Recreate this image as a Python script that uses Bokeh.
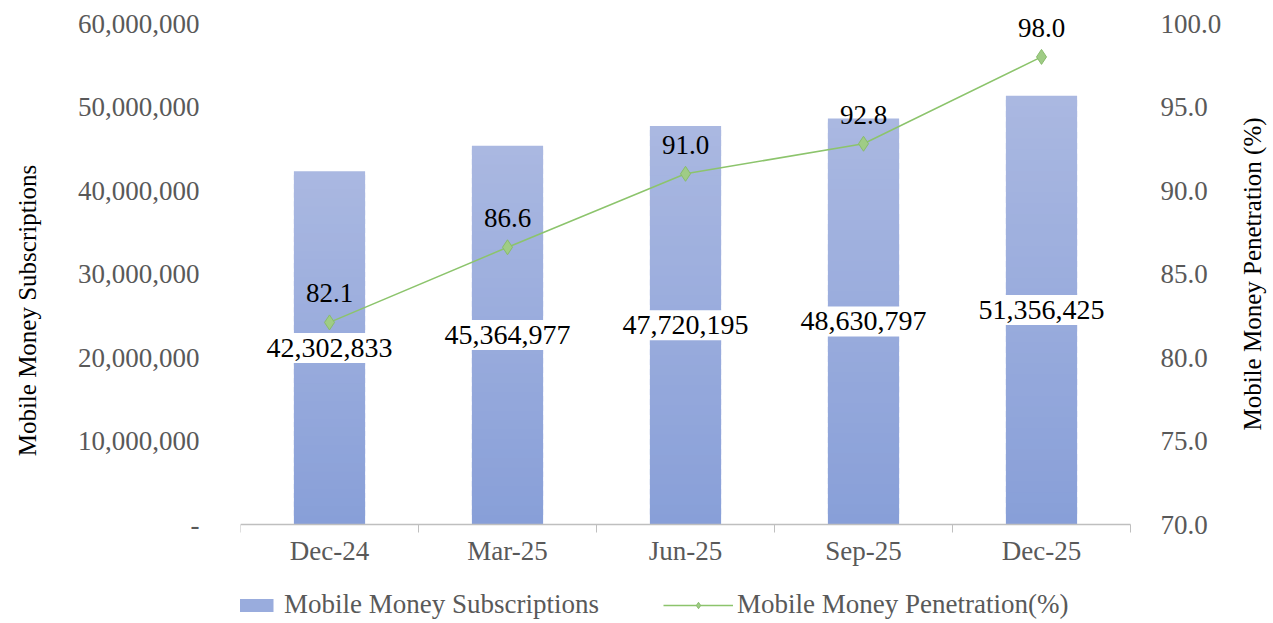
from bokeh.plotting import figure
from bokeh.models import (Range1d, LinearAxis, ColumnDataSource, LabelSet, Label, Legend,
                          LegendItem, FixedTicker, CustomJSTickFormatter)
from bokeh.embed import file_html
from bokeh.resources import INLINE

categories = ["Dec-24", "Mar-25", "Jun-25", "Sep-25", "Dec-25"]
subscriptions = [42302833, 45364977, 47720195, 48630797, 51356425]
penetration = [82.1, 86.6, 91.0, 92.8, 98.0]

FONT = "Liberation Serif"
GRAY = "#595959"

W, H = 1270, 620
LEFT = 240
# pixel geometry of the plotting area (zero line, top line, category pitch)
ZERO_PX, TOP_PX, CAT_PX = 524, 23, 178
px_per_unit = (ZERO_PX - TOP_PX)
ymin = -(H - ZERO_PX) / px_per_unit * 60e6
ymax = 60e6 + TOP_PX / px_per_unit * 60e6
pmin = 70 - (H - ZERO_PX) / px_per_unit * 30
pmax = 100 + TOP_PX / px_per_unit * 30
ncat = len(categories)
xs = [i + 0.5 for i in range(ncat)]

p = figure(width=W, height=H, x_range=Range1d(0, (W - LEFT) / CAT_PX),
           y_range=Range1d(ymin, ymax), output_backend="svg", toolbar_location=None,
           min_border_left=LEFT, min_border_right=0, min_border_top=0, min_border_bottom=0)
p.extra_y_ranges = {"pen": Range1d(pmin, pmax)}
p.outline_line_color = None
p.xgrid.visible = False
p.ygrid.visible = False
p.background_fill_color = "white"

# gradient bars built from slices of each bar
N = 40
light = (170, 184, 225)
dark = (136, 159, 216)
bx, bb, bt, bc = [], [], [], []
for i, v in enumerate(subscriptions):
    for k in range(N):
        t = (k + 0.5) / N
        c = tuple(int(round(dark[j] + (light[j] - dark[j]) * t)) for j in range(3))
        bx.append(xs[i])
        bb.append(v * k / N)
        bt.append(min(v, v * (k + 1.6) / N))
        bc.append("#%02x%02x%02x" % c)
bsrc = ColumnDataSource(dict(x=bx, bottom=bb, top=bt, color=bc))
bar_r = p.vbar(x="x", bottom="bottom", top="top", width=0.4, fill_color="color",
               line_color=None, source=bsrc)

# line
lsrc = ColumnDataSource(dict(x=xs, y=penetration, lab=["%.1f" % v for v in penetration]))
line_r = p.line("x", "y", source=lsrc, y_range_name="pen", line_color="#8cc46c", line_width=1.5)
mark_r = p.scatter("x", "y", source=lsrc, y_range_name="pen", marker="diamond", size=15,
                   fill_color="#9fcc85", line_color="#88bb6c")

# bar labels
lab_src = ColumnDataSource(dict(x=xs, y=[v / 2 for v in subscriptions],
                                lab=["{:,}".format(v) for v in subscriptions]))
p.add_layout(LabelSet(x="x", y="y", text="lab", source=lab_src, text_align="center",
                      text_baseline="middle", text_font=FONT, text_font_size="28px",
                      text_color="black", background_fill_color="white",
                      border_line_color="white", border_line_width=12))
p.add_layout(LabelSet(x="x", y="y", text="lab", source=lsrc, y_range_name="pen",
                      text_align="center", text_baseline="bottom", y_offset=20,
                      text_font=FONT, text_font_size="27px", text_color="black"))

# bottom axis at zero
xa = p.xaxis[0]
xa.fixed_location = 0
xa.bounds = (0, ncat)
xa.ticker = FixedTicker(ticks=xs, minor_ticks=list(range(ncat + 1)))
xa.formatter = CustomJSTickFormatter(args=dict(cats=categories),
                                     code="const i = Math.floor(tick); return cats[i] ?? '';")
xa.major_tick_line_color = None
xa.minor_tick_line_color = "#bfbfbf"
xa.minor_tick_out = 8
xa.minor_tick_in = 0
xa.axis_line_color = "#bfbfbf"
xa.axis_line_width = 1.5
xa.major_label_text_font = FONT
xa.major_label_text_font_size = "27px"
xa.major_label_text_color = GRAY
xa.major_label_standoff = 3

ya = p.yaxis[0]
ya.ticker = FixedTicker(ticks=[0, 10000000, 20000000, 30000000, 40000000, 50000000, 60000000])
ya.formatter = CustomJSTickFormatter(code="return tick === 0 ? '-' : tick.toLocaleString('en-US');")
ya.axis_line_color = None
ya.major_tick_line_color = None
ya.minor_tick_line_color = None
ya.major_label_text_font = FONT
ya.major_label_text_font_size = "27px"
ya.major_label_text_color = GRAY
ya.major_label_standoff = 35
ya.axis_label = "Mobile Money Subscriptions"
ya.axis_label_text_font = FONT
ya.axis_label_text_font_size = "25px"
ya.axis_label_text_font_style = "normal"
ya.axis_label_text_color = "black"
ya.axis_label_standoff = 34

ra = LinearAxis(y_range_name="pen", fixed_location=ncat,
                ticker=FixedTicker(ticks=[70, 75, 80, 85, 90, 95, 100]),
                formatter=CustomJSTickFormatter(code="return tick.toFixed(1);"))
ra.axis_line_color = None
ra.major_tick_line_color = None
ra.minor_tick_line_color = None
ra.major_label_text_font = FONT
ra.major_label_text_font_size = "27px"
ra.major_label_text_color = GRAY
ra.major_label_standoff = 24
p.add_layout(ra, "right")

p.add_layout(Label(x=ncat + 122 / CAT_PX, y=85, y_range_name="pen",
                   text="Mobile Money Penetration (%)", angle=90, angle_units="deg",
                   text_align="center", text_baseline="middle", text_font=FONT,
                   text_font_size="25px", text_color="black"))

legend = Legend(items=[
    LegendItem(label="Mobile Money Subscriptions", renderers=[bar_r], index=N // 2),
    LegendItem(label="Mobile Money Penetration(%)", renderers=[line_r, mark_r]),
], orientation="horizontal", location=(-30, 0), border_line_color=None,
    background_fill_alpha=0, label_text_font=FONT, label_text_font_size="27px",
    label_text_color=GRAY, glyph_width=70, glyph_height=16, spacing=64,
    label_standoff=4, padding=2, margin=0)
p.add_layout(legend, "center")

open("out.html", "w").write(file_html(p, INLINE))
